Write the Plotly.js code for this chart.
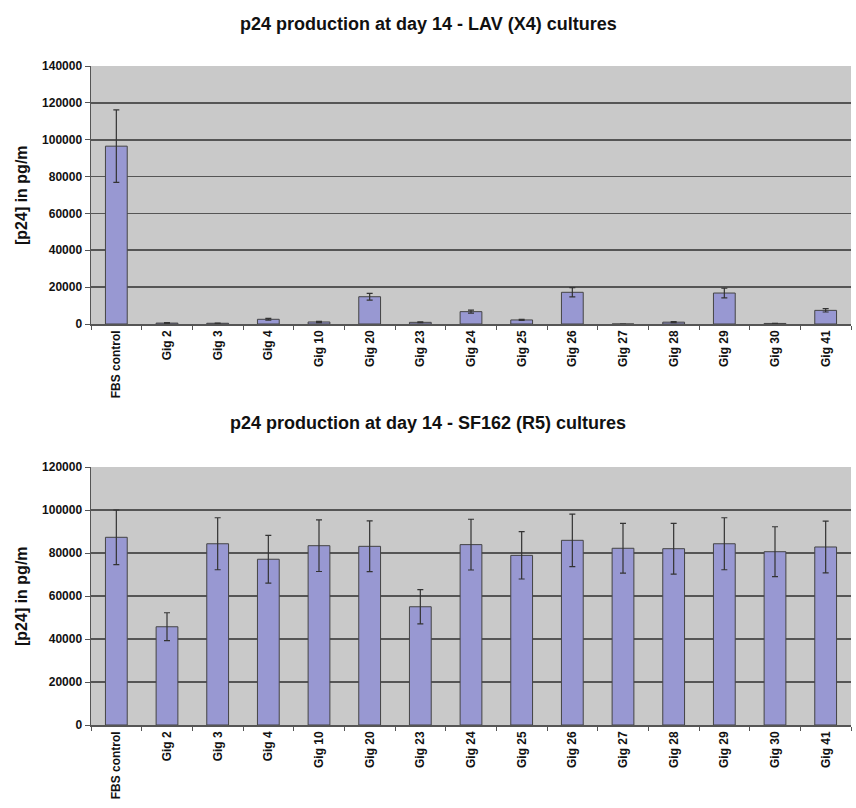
<!DOCTYPE html>
<html>
<head>
<meta charset="utf-8">
<script src="https://cdn.plot.ly/plotly-3.0.1.min.js"></script>
<style>html,body{margin:0;padding:0;background:#fff;}#chart{width:856px;height:808px;}</style>
</head>
<body>
<div id="chart"></div>
<script>
const categories = ['FBS control','Gig 2','Gig 3','Gig 4','Gig 10','Gig 20','Gig 23','Gig 24','Gig 25','Gig 26','Gig 27','Gig 28','Gig 29','Gig 30','Gig 41'];
const lavValues = [96500, 500, 400, 2550, 1100, 14800, 900, 6700, 2200, 17200, 0, 1000, 16800, 300, 7400];
const lavErrors = [19700, 200, 150, 500, 300, 1800, 200, 800, 300, 2500, 0, 300, 2600, 100, 900];
const sfValues = [87300, 45700, 84300, 77100, 83400, 83100, 55000, 83900, 78900, 85900, 82200, 82000, 84300, 80600, 82800];
const sfErrors = [12700, 6500, 12100, 11100, 12000, 11800, 8000, 11800, 11000, 12200, 11600, 11800, 12100, 11600, 12000];
const titleTop = 'p24 production at day 14 - LAV (X4) cultures';
const titleBottom = 'p24 production at day 14 - SF162 (R5) cultures';
const yTitle = '[p24] in pg/m';

const FONT = 'Liberation Sans, Arial, sans-serif';
const barColor = '#9898d2';

function barTrace(vals, errs, xa, ya) {
  return {
    type: 'bar', x: categories, y: vals, xaxis: xa, yaxis: ya,
    marker: {color: barColor, line: {color: '#444', width: 1}},
    error_y: {type: 'data', array: errs, visible: true, color: '#333', thickness: 1.2, width: 3},
    hoverinfo: 'x+y'
  };
}

const xCommon = {
  type: 'category', tickson: 'boundaries', ticks: 'outside', ticklen: 4, tickcolor: '#555',
  tickangle: -90, showline: true, linecolor: '#555', linewidth: 1.5,
  tickfont: {family: FONT, size: 12, color: '#111', weight: 700},
  showgrid: false, domain: [91/856, 851/856], fixedrange: true
};
const yCommon = {
  ticks: 'outside', ticklen: 5, tickcolor: '#555', showline: true, linecolor: '#555', linewidth: 1.5,
  gridcolor: '#555555', gridwidth: 1.6, zeroline: false,
  tickfont: {family: FONT, size: 12, color: '#111', weight: 700},
  tickformat: 'd', fixedrange: true
};

const layout = {
  width: 856, height: 808,
  margin: {l: 0, r: 0, t: 0, b: 0},
  paper_bgcolor: '#ffffff', plot_bgcolor: '#c9c9c9',
  showlegend: false, bargap: 0.57,
  xaxis: Object.assign({}, xCommon, {anchor: 'y'}),
  yaxis: Object.assign({}, yCommon, {anchor: 'x', domain: [1-324/808, 1-66/808], range: [0, 140000], dtick: 20000}),
  xaxis2: Object.assign({}, xCommon, {anchor: 'y2'}),
  yaxis2: Object.assign({}, yCommon, {anchor: 'x2', domain: [1-725/808, 1-467/808], range: [0, 120000], dtick: 20000}),
  annotations: [
    {text: titleTop, xref: 'paper', yref: 'paper', x: 428/856, y: 1-24/808, showarrow: false, xanchor: 'center', yanchor: 'middle',
     font: {family: FONT, size: 18, color: '#111', weight: 700}},
    {text: titleBottom, xref: 'paper', yref: 'paper', x: 428/856, y: 1-423/808, showarrow: false, xanchor: 'center', yanchor: 'middle',
     font: {family: FONT, size: 18, color: '#111', weight: 700}},
    {text: yTitle, xref: 'paper', yref: 'paper', x: 21/856, y: 1-195/808, showarrow: false, textangle: -90, xanchor: 'center', yanchor: 'middle',
     font: {family: FONT, size: 16, color: '#111', weight: 700}},
    {text: yTitle, xref: 'paper', yref: 'paper', x: 21/856, y: 1-596/808, showarrow: false, textangle: -90, xanchor: 'center', yanchor: 'middle',
     font: {family: FONT, size: 16, color: '#111', weight: 700}}
  ]
};

Plotly.newPlot('chart', [barTrace(lavValues, lavErrors, 'x', 'y'), barTrace(sfValues, sfErrors, 'x2', 'y2')], layout, {displayModeBar: false, staticPlot: true});
</script>
</body>
</html>
